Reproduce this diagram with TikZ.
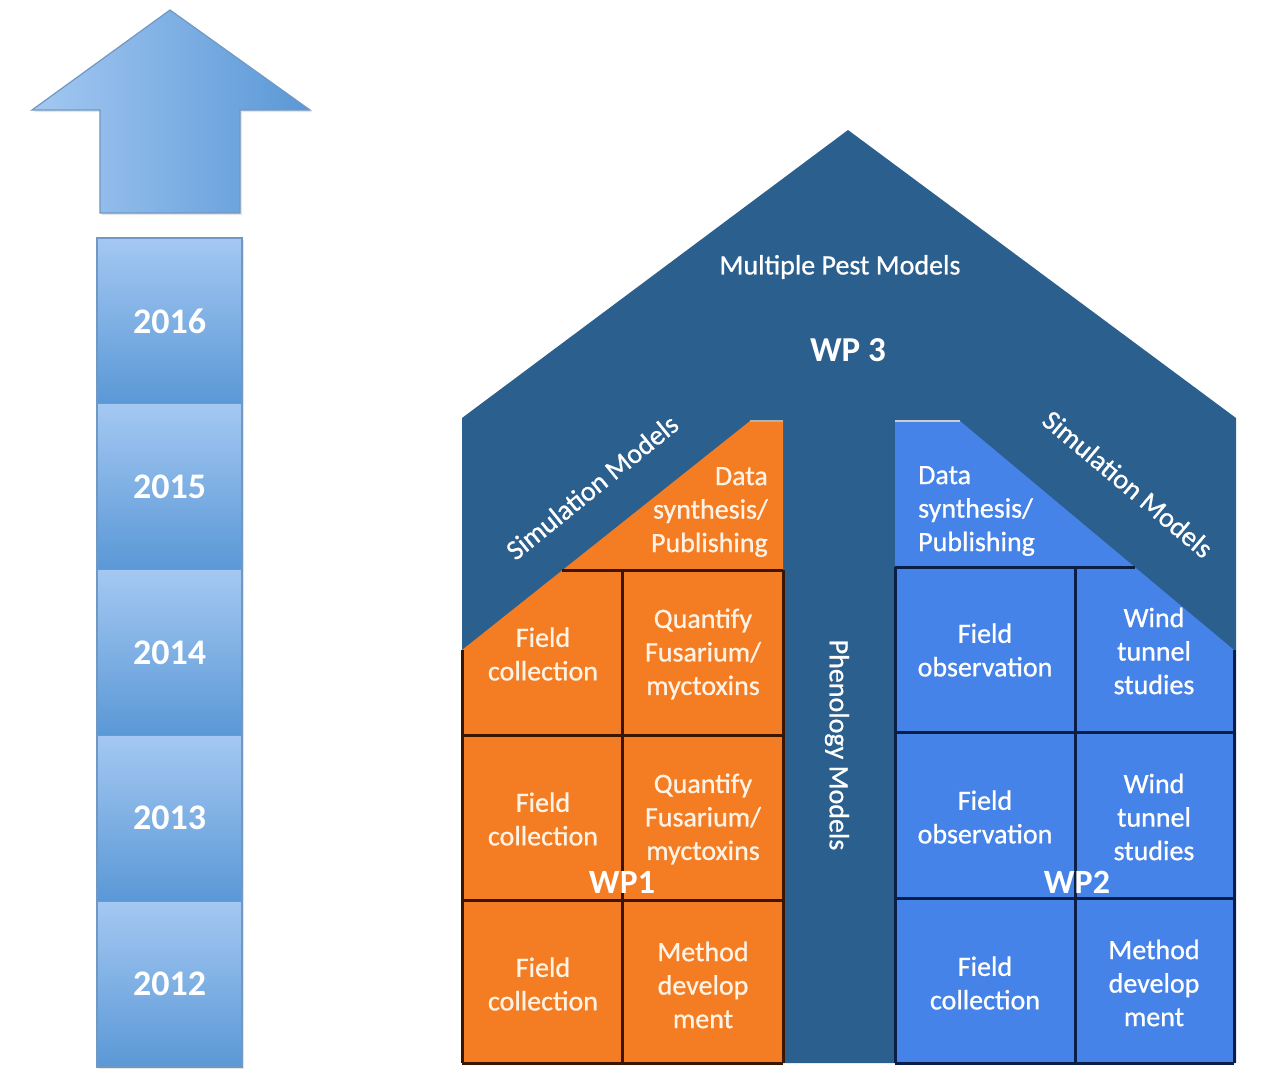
\documentclass[tikz,border=0pt]{standalone}
\usepackage{fontspec}
\setmainfont{Carlito}
\newfontfamily\heavyfont[FakeBold=0.8]{Carlito}
\usetikzlibrary{shadows}
\definecolor{housecol}{HTML}{2B5F8E}
\definecolor{orangecol}{HTML}{F47C22}
\definecolor{bluecol}{HTML}{4683E8}
\definecolor{yrtop}{HTML}{A4C8F2}
\definecolor{yrbot}{HTML}{5A98D6}
\definecolor{yredge}{HTML}{7098C2}
\definecolor{orline}{HTML}{3A1500}
\definecolor{blline}{HTML}{0B1E45}
\definecolor{cream}{HTML}{FFF3E6}
\begin{document}
\begin{tikzpicture}[x=1pt,y=-1pt,
  yearbox/.style={draw=yredge, line width=1.2pt, top color=yrtop, bottom color=yrbot,
    minimum width=145pt, minimum height=165.8pt, inner sep=0pt, text=white,
    font=\fontsize{36}{40}\selectfont\bfseries,
    drop shadow={opacity=0.2, shadow xshift=2pt, shadow yshift=-2pt}},
  celltxt/.style={align=center, inner sep=0pt, font=\heavyfont\fontsize{28}{33.5}\selectfont},
  ortxt/.style={celltxt, text=cream},
  bltxt/.style={celltxt, text=white},
  bigtxt/.style={text=white, inner sep=0pt, font=\heavyfont\fontsize{28}{33.5}\selectfont},
  wptxt/.style={text=white, inner sep=0pt, font=\fontsize{34}{40}\selectfont\bfseries},
  orgrid/.style={draw=orline, line width=3pt},
  blgrid/.style={draw=blline, line width=3pt}
]
\useasboundingbox[fill=white] (0,0) rectangle (1280,1076);

% ---- timeline arrow ----
\path[left color=yrtop, right color=yrbot, draw=yredge, line width=1.2pt,
  drop shadow={opacity=0.2, shadow xshift=2pt, shadow yshift=-2pt}]
  (100,213) -- (100,110) -- (32,110) -- (170,10) -- (310,110) -- (240,110) -- (240,213) -- cycle;

% ---- year boxes ----
\node[yearbox] (y16) at (169.5,320.9) {2016};
\node[yearbox] (y15) at (169.5,486.7) {2015};
\node[yearbox] (y14) at (169.5,652.5) {2014};
\node[yearbox] (y13) at (169.5,818.3) {2013};
\node[yearbox] (y12) at (169.5,984.1) {2012};

% ---- house ----
\fill[housecol] (462,1063) -- (462,418) -- (848,130) -- (1236,418) -- (1236,1063) -- cycle;

% orange block
\fill[orangecol] (750,421) -- (783,421) -- (783,1063) -- (462,1063) -- (462,650) -- cycle;
\draw[orgrid] (562,570) -- (783,570);
\draw[orgrid] (462,735) -- (783,735);
\draw[orgrid] (462,900) -- (783,900);
\draw[orgrid] (462,1063) -- (783,1063);
\draw[orgrid] (622,570) -- (622,1063);
\draw[orgrid] (462,650) -- (462,1063);
\draw[orgrid] (783,570) -- (783,1063);
\draw[gray!60, line width=1.5pt] (750,421) -- (783,421);

% blue block
\fill[bluecol] (895,421) -- (960,421) -- (1234,650) -- (1234,1063) -- (895,1063) -- cycle;
\draw[blgrid] (895,567) -- (1135,567);
\draw[blgrid] (895,732) -- (1234,732);
\draw[blgrid] (895,898) -- (1234,898);
\draw[blgrid] (895,1063) -- (1234,1063);
\draw[blgrid] (1075,567) -- (1075,1063);
\draw[blgrid] (895,567) -- (895,1063);
\draw[blgrid] (1234,650) -- (1234,1063);
\draw[gray!40, line width=1.5pt] (895,421) -- (960,421);

% ---- house texts ----
\node[bigtxt] (mpm) at (840,267) {Multiple Pest Models};
\node[text=white, inner sep=0pt, font=\fontsize{35}{40}\selectfont\bfseries] (wp3) at (848,350) {WP 3};
\node[bigtxt, rotate=39] (siml) at (592,487) {Simulation Models};
\node[bigtxt, rotate=-40] (simr) at (1128,484) {Simulation Models};
\node[bigtxt, rotate=-90] (phen) at (837,745) {Phenology Models};

\node[ortxt, align=right, anchor=east] (dsl) at (768,512) {Data\\synthesis/\\Publishing};
\node[bltxt, align=left, anchor=west] (dsr) at (918,511) {Data\\synthesis/\\Publishing};

% orange cells
\node[ortxt] (o11) at (543,654) {Field\\collection};
\node[ortxt] (o12) at (703,654) {Quantify\\Fusarium/\\myctoxins};
\node[ortxt] (o21) at (543,819) {Field\\collection};
\node[ortxt] (o22) at (703,819) {Quantify\\Fusarium/\\myctoxins};
\node[ortxt] (o31) at (543,984) {Field\\collection};
\node[ortxt] (o32) at (703,985) {Method\\develop\\ment};

% blue cells
\node[bltxt] (b11) at (985,650) {Field\\observation};
\node[bltxt] (b12) at (1154,651) {Wind\\tunnel\\studies};
\node[bltxt] (b21) at (985,817) {Field\\observation};
\node[bltxt] (b22) at (1154,817) {Wind\\tunnel\\studies};
\node[bltxt] (b31) at (985,983) {Field\\collection};
\node[bltxt] (b32) at (1154,983) {Method\\develop\\ment};

\node[wptxt] (wp1) at (622,882) {WP1};
\node[wptxt] (wp2) at (1077,882) {WP2};
\end{tikzpicture}
\end{document}
